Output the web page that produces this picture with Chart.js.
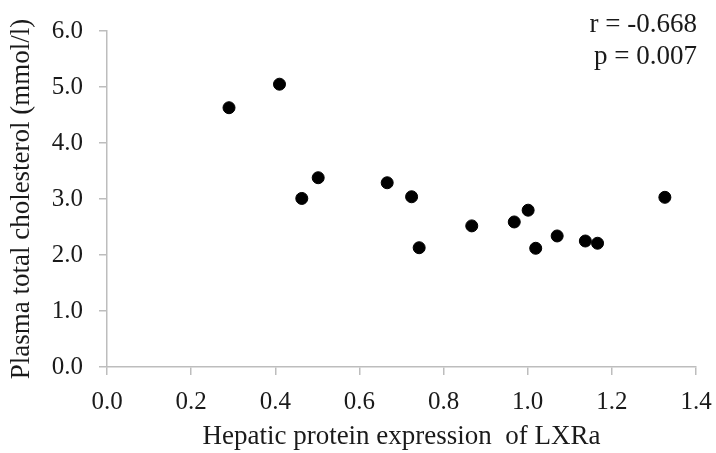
<!DOCTYPE html>
<html>
<head>
<meta charset="utf-8">
<script src="https://cdn.jsdelivr.net/npm/chart.js@4.4.1/dist/chart.umd.min.js"></script>
<style>
  html, body { margin: 0; padding: 0; background: #fff; }
  #wrap { width: 716px; height: 453px; }
</style>
</head>
<body>
<div id="wrap"><canvas id="scatter"></canvas></div>
<script>
// LXRa protein expression vs plasma total cholesterol
const lxraExpression = [0.29, 0.41, 0.463, 0.502, 0.666, 0.724, 0.742, 0.867, 0.968, 1.001, 1.019, 1.070, 1.137, 1.166, 1.326];
const cholesterol    = [4.63, 5.05, 3.01, 3.38, 3.29, 3.04, 2.13, 2.52, 2.59, 2.80, 2.12, 2.34, 2.25, 2.21, 3.03];
const statsLines = ['r = -0.668', 'p = 0.007'];
const xTitle = 'Hepatic protein expression  of LXRa';
const yTitle = 'Plasma total cholesterol (mmol/l)';

const FONT = "'Liberation Serif', 'Times New Roman', serif";
const AXIS_GREY = '#bdbdbd';
const TEXT = '#1a1a1a';

const points = lxraExpression.map((x, i) => ({ x: x, y: cholesterol[i] }));

// r / p text in the top right corner
const statsPlugin = {
  id: 'stats',
  afterDraw(chart) {
    const ctx = chart.ctx;
    const area = chart.chartArea;
    ctx.save();
    ctx.font = '27px ' + FONT;
    ctx.fillStyle = TEXT;
    ctx.textAlign = 'right';
    ctx.textBaseline = 'alphabetic';
    statsLines.forEach((line, i) => {
      ctx.fillText(line, area.right + 1, 32 + i * 32);
    });
    ctx.restore();
  }
};

const chart = new Chart(document.getElementById('scatter'), {
  type: 'scatter',
  data: {
    datasets: [{
      data: points,
      backgroundColor: '#000',
      borderColor: '#000',
      pointRadius: 6,
      pointHoverRadius: 6
    }]
  },
  options: {
    responsive: true,
    maintainAspectRatio: false,
    animation: false,
    layout: { padding: { top: 28, right: 8, left: 0, bottom: 0 } },
    plugins: { legend: { display: false }, tooltip: { enabled: false } },
    scales: {
      x: {
        type: 'linear',
        min: 0, max: 1.4,
        afterFit: s => { s.height = 453 - 367; s.paddingRight = 20; },
        border: { color: AXIS_GREY, width: 1.5 },
        grid: { drawOnChartArea: false, tickLength: 8, color: AXIS_GREY, lineWidth: 1.5 },
        ticks: {
          stepSize: 0.2,
          padding: 12,
          color: TEXT,
          font: { family: FONT, size: 25 },
          callback: v => v.toFixed(1)
        },
        title: {
          display: true,
          text: xTitle,
          color: TEXT,
          font: { family: FONT, size: 27 },
          padding: { top: 0, bottom: 0 }
        }
      },
      y: {
        min: 0, max: 6,
        afterFit: s => { s.width = 107; },
        border: { color: AXIS_GREY, width: 1.5 },
        grid: { drawOnChartArea: false, tickLength: 8, color: AXIS_GREY, lineWidth: 1.5 },
        ticks: {
          stepSize: 1,
          padding: 16,
          color: TEXT,
          font: { family: FONT, size: 25 },
          callback: v => v.toFixed(1)
        },
        title: {
          display: true,
          text: yTitle,
          color: TEXT,
          font: { family: FONT, size: 27 },
          padding: { top: 6, bottom: 2 }
        }
      }
    }
  },
  plugins: [statsPlugin]
});
</script>
</body>
</html>
